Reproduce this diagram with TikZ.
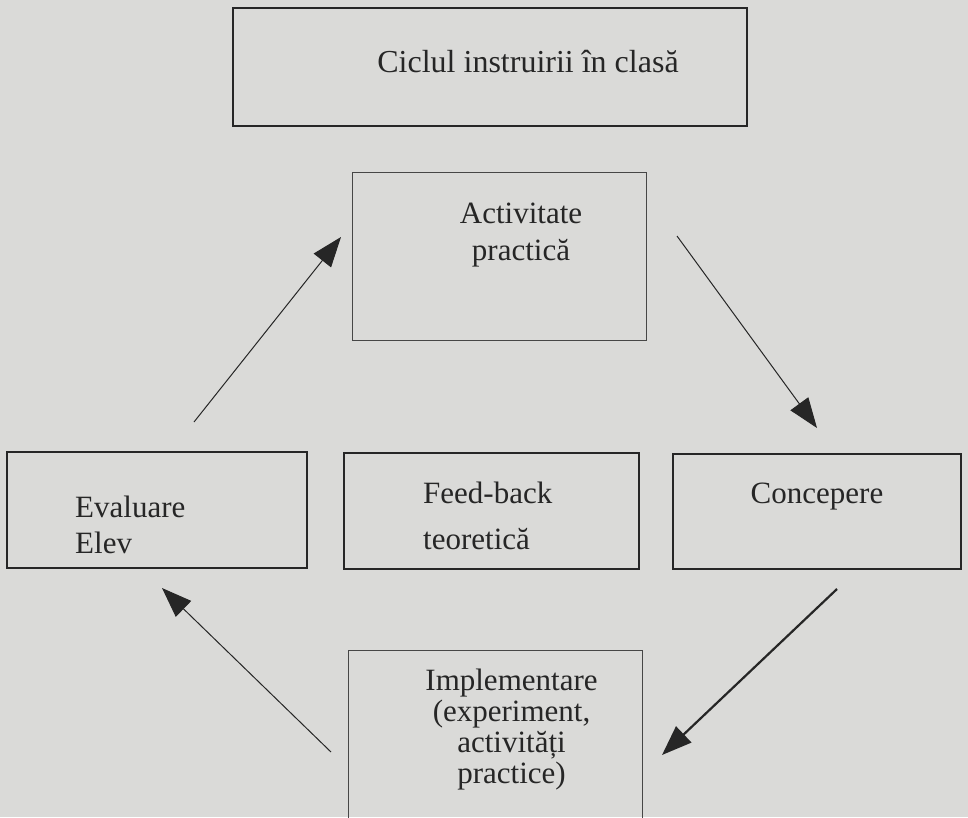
\documentclass[tikz,border=0pt]{standalone}
\usepackage{fontspec}
\setmainfont{Liberation Serif}
\usepackage{xcolor}
\usetikzlibrary{arrows.meta}
\definecolor{paper}{RGB}{218,218,216}
\definecolor{ink}{RGB}{38,38,38}
\definecolor{pale}{RGB}{70,70,70}

\begin{document}
\begin{tikzpicture}[x=1pt,y=-1pt,every node/.style={text=ink,inner sep=0pt},
  framebox/.style={draw=ink,line width=2pt},
  thinbox/.style={draw=pale,line width=0.7pt},
  cyclearrow/.style={draw=ink,line width=1pt,-{Triangle[length=30pt,width=22pt]}}]
\fill[paper] (0,0) rectangle (968,817);
\clip (0,0) rectangle (968,817);
\node[framebox,line width=1.3pt,minimum width=514pt,minimum height=118pt] (ciclu) at (490,67) {};
\node[anchor=base,font=\fontsize{32}{32}\selectfont] (ciclutxt) at (528,72) {Ciclul instruirii în clasă};
\node[thinbox,minimum width=294pt,minimum height=168pt] (activ) at (499,256) {};
\node[anchor=base,align=center,font=\fontsize{31}{37}\selectfont] (activtxt) at (521,260) {Activitate\\practică};
\node[framebox,minimum width=300pt,minimum height=116pt] (eval) at (157,510) {};
\node[anchor=base west,align=left,font=\fontsize{31}{36}\selectfont] (evaltxt) at (75,553) {Evaluare\\Elev};
\node[framebox,minimum width=295pt,minimum height=116pt] (feed) at (491.5,511) {};
\node[anchor=base west,align=left,font=\fontsize{31}{46}\selectfont] (feedtxt) at (423,549) {Feed-back\\teoretică};
\node[framebox,minimum width=288pt,minimum height=115pt] (conc) at (817,511.5) {};
\node[anchor=base,font=\fontsize{31}{31}\selectfont] (conctxt) at (817,503) {Concepere};
\node[thinbox,minimum width=294pt,minimum height=200pt] (impl) at (495,750) {};
\node[anchor=base,align=center,font=\fontsize{31}{31}\selectfont] (impltxt) at (511.5,783) {Implementare\\(experiment,\\activități\hspace*{40pt}\\practice)};
\coordinate (evalout) at (194,422);
\coordinate (activin) at (341,237);
\coordinate (activout) at (677,236);
\coordinate (concin) at (817,428);
\coordinate (concout) at (837,589);
\coordinate (implin) at (662,755);
\coordinate (implout) at (331,752);
\coordinate (evalin) at (162,588);
\draw[cyclearrow] (evalout) -- (activin);
\draw[cyclearrow] (activout) -- (concin);
\draw[cyclearrow,line width=2.2pt] (concout) -- (implin);
\draw[cyclearrow] (implout) -- (evalin);
\end{tikzpicture}
\end{document}
